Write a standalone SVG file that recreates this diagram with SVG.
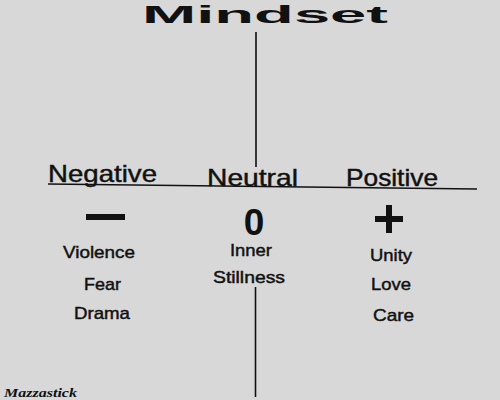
<svg xmlns="http://www.w3.org/2000/svg" width="500" height="400" viewBox="0 0 500 400">
<style>
.lbl{font-family:"Liberation Sans","DejaVu Sans",sans-serif;fill:#111;stroke:#111;stroke-width:0.45;}
.head{font-size:24px;}
.item{font-size:17px;}
.sym{font-weight:bold;stroke-width:0;}
.ln{stroke:#111;stroke-width:1.6;fill:none;}
</style>
<rect width="500" height="400" fill="#d8d8d8"/>
<g id="connectors">
<line class="ln" x1="256" y1="32" x2="256" y2="167"/>
<line class="ln" x1="48" y1="184" x2="477" y2="189" stroke-width="2"/>
<line class="ln" x1="255.5" y1="287" x2="255.5" y2="397"/>
</g>
<g id="title">
<text class="lbl sym" x="142" y="23" font-family="DejaVu Sans" font-size="24" textLength="246" lengthAdjust="spacingAndGlyphs">Mindset</text>
</g>
<g id="negative">
<text class="lbl head" x="48" y="182" textLength="109" lengthAdjust="spacingAndGlyphs">Negative</text>
<rect x="86" y="214" width="39" height="6" fill="#111"/>
<text class="lbl item" x="63" y="258" textLength="72" lengthAdjust="spacingAndGlyphs">Violence</text>
<text class="lbl item" x="84" y="290" textLength="37" lengthAdjust="spacingAndGlyphs">Fear</text>
<text class="lbl item" x="74" y="319" textLength="56" lengthAdjust="spacingAndGlyphs">Drama</text>
</g>
<g id="neutral">
<text class="lbl head" x="207" y="186" textLength="91" lengthAdjust="spacingAndGlyphs">Neutral</text>
<text class="lbl sym" x="254" y="235" font-size="37" text-anchor="middle">0</text>
<text class="lbl item" x="230" y="256" textLength="42" lengthAdjust="spacingAndGlyphs">Inner</text>
<text class="lbl item" x="213" y="283" textLength="72" lengthAdjust="spacingAndGlyphs">Stillness</text>
</g>
<g id="positive">
<text class="lbl head" x="346" y="186" textLength="92" lengthAdjust="spacingAndGlyphs">Positive</text>
<path d="M375 219H403M389 205V233" stroke="#111" stroke-width="6" fill="none"/>
<text class="lbl item" x="370" y="261" textLength="42" lengthAdjust="spacingAndGlyphs">Unity</text>
<text class="lbl item" x="371" y="290" textLength="40" lengthAdjust="spacingAndGlyphs">Love</text>
<text class="lbl item" x="373" y="321" textLength="41" lengthAdjust="spacingAndGlyphs">Care</text>
</g>
<g id="signature">
<text x="4" y="397" font-family="Liberation Serif" font-weight="bold" font-style="italic" font-size="13" fill="#111" textLength="73" lengthAdjust="spacingAndGlyphs">Mazzastick</text>
</g>
</svg>
